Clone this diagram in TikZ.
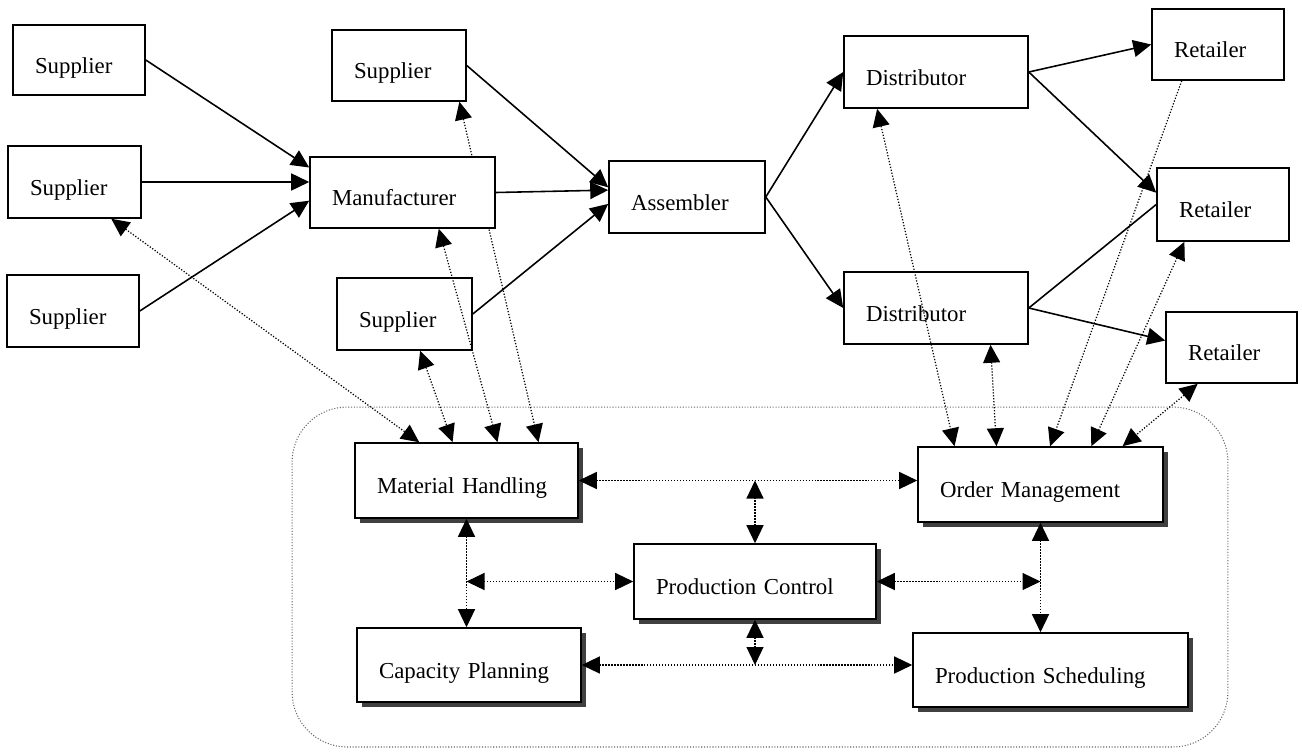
\documentclass[tikz,border=0pt]{standalone}
\usepackage{fontspec}
\setmainfont{Liberation Serif}
\usetikzlibrary{
    arrows.meta,
    backgrounds, % to use pgfonlayer
    shadows
}

\begin{document}
\begin{tikzpicture}[x=0.02cm, y=-0.02cm,
    >={Triangle[length=3.6mm,width=3.4mm]},
    box/.style={draw, line width=0.9pt, fill=white, align=left,
        inner xsep=0.44cm, inner ysep=0pt, text height=15pt, text depth=0pt,
        font=\fontsize{13}{15}\selectfont},
    unit/.style={box, drop shadow={shadow xshift=0.1cm, shadow yshift=-0.1cm,
        fill=black!75, opacity=1}},
    flow/.style={->, line width=0.9pt},
    info/.style={<->, densely dotted, line width=0.7pt}
]
    \useasboundingbox (0,0) rectangle (1302,751);

    % dotted frame round the plant
    \node (plant) [draw, densely dotted, black!60, line width=0.6pt, rounded corners=1.1cm,
        minimum width=18.72cm, minimum height=6.8cm] at (760,577) {};

    % supply chain
    \node (sup1)  [box, text width=1.76cm, minimum height=1.40cm] at (79,60)      {Supplier};
    \node (sup2)  [box, text width=1.78cm, minimum height=1.44cm] at (74.5,182)   {Supplier};
    \node (sup3)  [box, text width=1.76cm, minimum height=1.44cm] at (73,311)     {Supplier};
    \node (sup4)  [box, text width=1.80cm, minimum height=1.42cm] at (399,65.5)   {Supplier};
    \node (sup5)  [box, text width=1.82cm, minimum height=1.44cm] at (404.5,314)  {Supplier};
    \node (manu)  [box, text width=2.82cm, minimum height=1.42cm] at (402.5,192.5) {Manufacturer};
    \node (asm)   [box, text width=2.24cm, minimum height=1.44cm] at (687,197)    {Assembler};
    \node (dist1) [box, text width=2.80cm, minimum height=1.44cm] at (936,72)     {Distributor};
    \node (dist2) [box, text width=2.80cm, minimum height=1.44cm] at (936,308)    {Distributor};
    \node (ret1)  [box, text width=1.76cm, minimum height=1.42cm] at (1218,44.5)  {Retailer};
    \node (ret2)  [box, text width=1.76cm, minimum height=1.46cm] at (1223,204.5) {Retailer};
    \node (ret3)  [box, text width=1.74cm, minimum height=1.42cm] at (1231.5,347.5) {Retailer};

    % units of the plant
    \node (mh) [unit, text width=3.58cm, minimum height=1.50cm] at (466.5,480.5) {Material Handling};
    \node (om) [unit, text width=4.02cm, minimum height=1.50cm] at (1040.5,484.5) {Order Management};
    \node (pc) [unit, text width=3.96cm, minimum height=1.50cm] at (755,581.5)   {Production Control};
    \node (cp) [unit, text width=3.60cm, minimum height=1.48cm] at (469,665)     {Capacity Planning};
    \node (ps) [unit, text width=4.62cm, minimum height=1.48cm] at (1050.5,670)  {Production Scheduling};

    % material flow
    \draw[flow] (sup1.east) -- (manu.165);
    \draw[flow] (sup2.east) -- (sup2.east -| manu.west);
    \draw[flow] (sup3.east) -- (manu.185);
    \draw[flow] (sup4.east) -- (asm.173);
    \draw[flow] (manu.east) -- (asm.175);
    \draw[flow] (sup5.east) -- (asm.185);
    \draw[flow] (asm.east) -- (dist1.west);
    \draw[flow] (asm.east) -- (dist2.west);
    \draw[flow] (dist1.east) -- (ret1.west);
    \draw[flow] (dist1.east) -- (ret2.170);
    \draw[flow, -] (dist2.east) -- (ret2.west);
    \draw[flow] (dist2.east) -- (ret3.174);

    % information to and from the plant
    \begin{pgfonlayer}{background}
        \draw[info] (sup4.-31) -- (mh.28); % runs behind the manufacturer
    \end{pgfonlayer}
    \draw[info] (sup2.-45) -- (mh.141);
    \draw[info] (sup5.-67) -- (mh.110);
    \draw[info] (manu.-45) -- (mh.51);
    \draw[info] (dist1.-148) -- (om.156);
    \draw[info] (dist2.-34) -- (om.139);
    \draw[info, ->] (ret1.-135) -- (om.76);
    \draw[info] (ret2.-136) -- (om.37);
    \draw[info] (ret3.-133) -- (om.25);

    % information inside the plant
    \coordinate (pctop)   at (pc.north |- mh.east);
    \coordinate (pcleft)  at (mh.south |- pc.west);
    \coordinate (pcright) at (om.south |- pc.east);
    \coordinate (pcbot)   at (pc.south |- cp.east);
    \draw[info] (mh.east) -- (mh.east -| om.west);
    \draw[info] (pc.north) -- (pctop);
    \draw[info] (mh.south) -- (mh.south |- cp.north);
    \draw[info] (pcleft) -- (pc.west);
    \draw[info] (pc.east) -- (pcright);
    \draw[info] (om.south) -- (om.south |- ps.north);
    \draw[info] (pc.south) -- (pcbot);
    \draw[info] (cp.east) -- (cp.east -| ps.west);
\end{tikzpicture}
\end{document}
